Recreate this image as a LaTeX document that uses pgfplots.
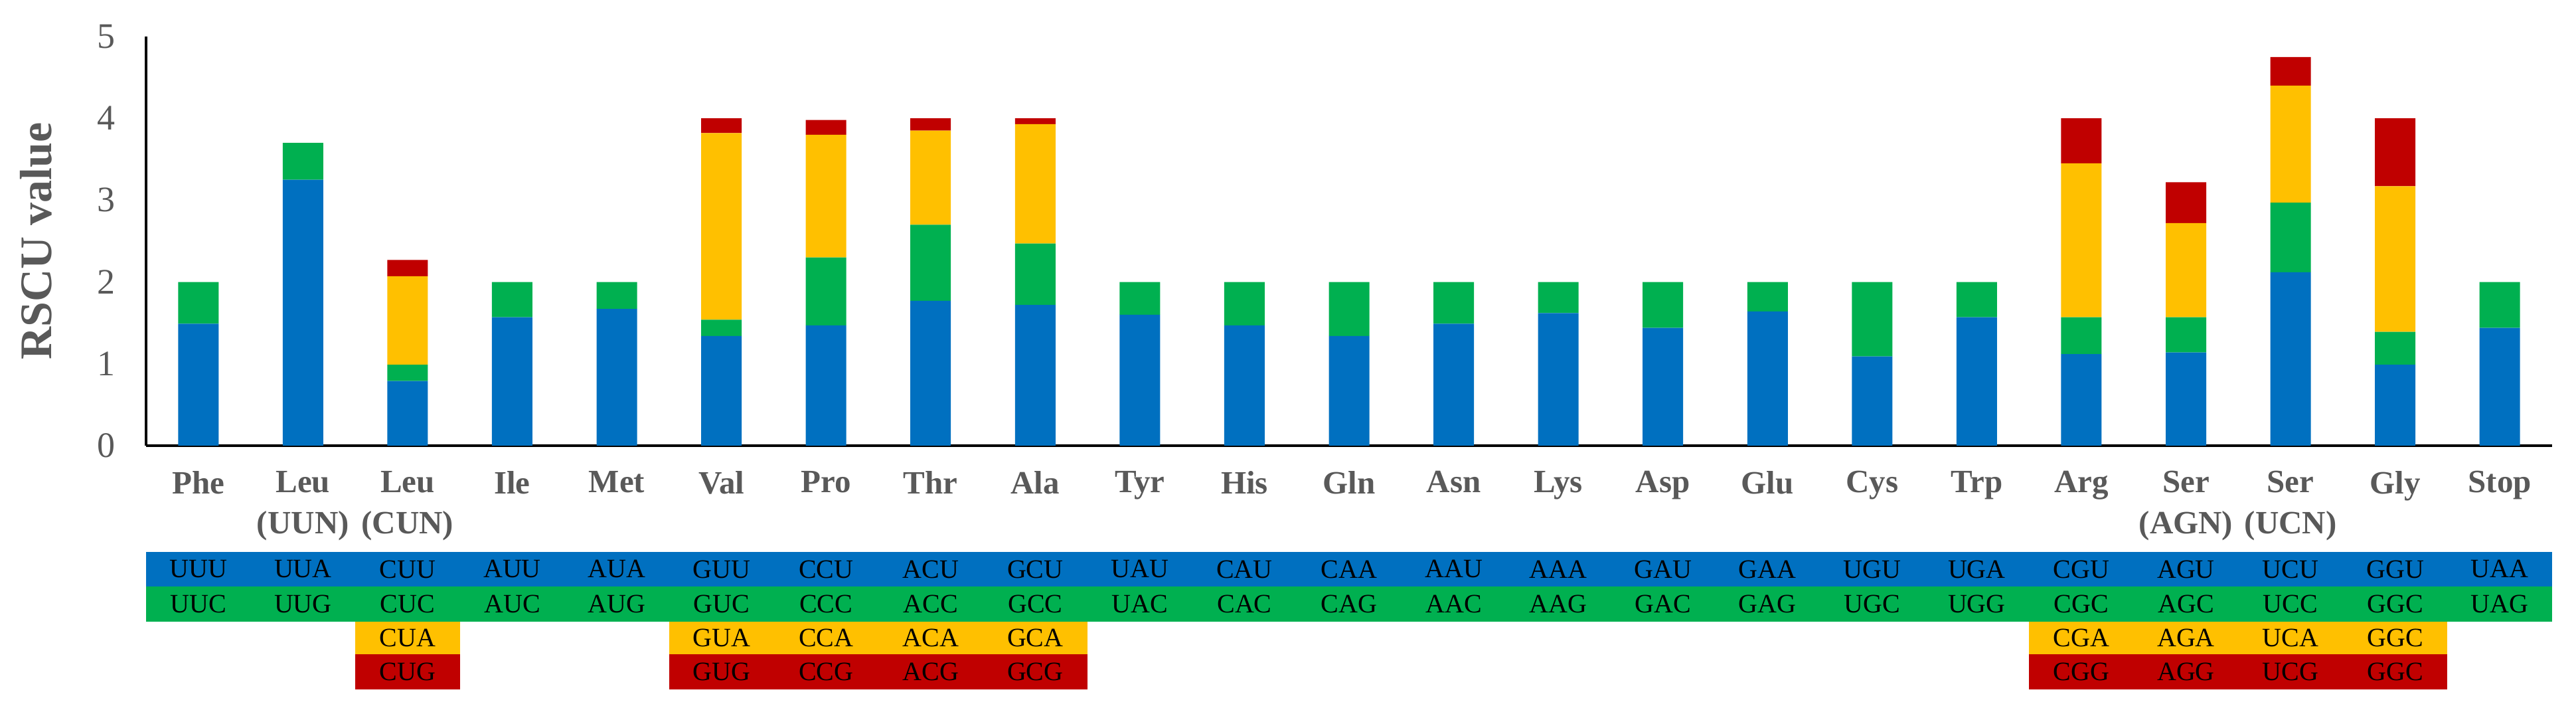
\documentclass[border=0pt]{standalone}
\usepackage{pgfplots}
\pgfplotsset{compat=1.18}
\usepackage{pgfplotstable}
\usepackage{fontspec}
\setmainfont{Liberation Serif}

\definecolor{cBlue}{HTML}{0070C0}
\definecolor{cGreen}{HTML}{00B050}
\definecolor{cYellow}{HTML}{FFC000}
\definecolor{cRed}{HTML}{C00000}
\definecolor{txtgray}{HTML}{595959}

% RSCU of the 1st..4th codon of each amino acid (stacked)
\pgfplotstableread{
x  b    g    y    r
0  1.49 0.51 0    0
1  3.25 0.45 0    0
2  0.79 0.20 1.08 0.20
3  1.57 0.43 0    0
4  1.67 0.33 0    0
5  1.34 0.20 2.28 0.18
6  1.47 0.83 1.50 0.18
7  1.77 0.93 1.15 0.15
8  1.72 0.75 1.46 0.07
9  1.60 0.40 0    0
10 1.47 0.53 0    0
11 1.34 0.66 0    0
12 1.49 0.51 0    0
13 1.62 0.38 0    0
14 1.44 0.56 0    0
15 1.64 0.36 0    0
16 1.09 0.91 0    0
17 1.57 0.43 0    0
18 1.12 0.45 1.88 0.55
19 1.14 0.43 1.15 0.50
20 2.12 0.85 1.43 0.35
21 0.99 0.40 1.78 0.83
22 1.44 0.56 0    0
}\rscu

\begin{document}
\begin{tikzpicture}
\path (-55pt,-101.75pt) rectangle (915pt,167.75pt);
\begin{axis}[
  at={(0,0)}, anchor=south west,
  width=906pt, height=154pt, scale only axis,
  xmin=-0.5, xmax=22.5, ymin=0, ymax=5,
  axis x line*=bottom, axis y line*=left,
  axis line style={black, line width=0.8pt, -},
  ybar stacked, bar width=15.25pt,
  ytick={0,1,2,3,4,5},
  xtick={0,...,22},
  major tick length=0pt,
  xticklabels={Phe,{Leu\\(UUN)},{Leu\\(CUN)},Ile,Met,Val,Pro,Thr,Ala,Tyr,His,Gln,Asn,Lys,Asp,Glu,Cys,Trp,Arg,{Ser\\(AGN)},{Ser\\(UCN)},Gly,Stop},
  xticklabel style={font=\fontsize{12.25}{15.5}\selectfont\bfseries, text=txtgray, align=center, anchor=north, yshift=-6pt},
  yticklabel style={font=\fontsize{13.5}{16}\selectfont, text=txtgray, xshift=-8pt},
  /pgf/number format/assume math mode=true,
  ylabel={RSCU value},
  every axis y label/.style={at={(axis description cs:-0.0458,0.5)}, rotate=90, anchor=center,
    font=\fontsize{17}{20}\selectfont\bfseries, text=txtgray},
  every axis plot/.append style={draw=none},
]
\addplot[fill=cBlue]   table[x=x,y=b]{\rscu};
\addplot[fill=cGreen]  table[x=x,y=g]{\rscu};
\addplot[fill=cYellow] table[x=x,y=y]{\rscu};
\addplot[fill=cRed]    table[x=x,y=r]{\rscu};
\end{axis}

% codon table under the categories
\def\cw{39.3913}
\fill[cBlue]  (0,-40pt) rectangle (906pt,-53pt);
\fill[cGreen] (0,-53pt) rectangle (906pt,-66.25pt);
\foreach \a/\b in {2/3,5/9,18/22}{
  \fill[cYellow] ({\a*\cw pt},-66.25pt) rectangle ({\b*\cw pt},-78.5pt);
  \fill[cRed]    ({\a*\cw pt},-78.5pt) rectangle ({\b*\cw pt},-91.75pt);
}
\tikzset{codon/.style={font=\fontsize{10}{12}\selectfont, text=black, inner sep=0pt}}
\foreach \c [count=\i from 0] in {UUU,UUA,CUU,AUU,AUA,GUU,CCU,ACU,GCU,UAU,CAU,CAA,AAU,AAA,GAU,GAA,UGU,UGA,CGU,AGU,UCU,GGU,UAA}
  \node[codon] at ({(\i+0.5)*\cw pt},-46.5pt) {\c};
\foreach \c [count=\i from 0] in {UUC,UUG,CUC,AUC,AUG,GUC,CCC,ACC,GCC,UAC,CAC,CAG,AAC,AAG,GAC,GAG,UGC,UGG,CGC,AGC,UCC,GGC,UAG}
  \node[codon] at ({(\i+0.5)*\cw pt},-59.6pt) {\c};
\foreach \i/\c in {2/CUA,5/GUA,6/CCA,7/ACA,8/GCA,18/CGA,19/AGA,20/UCA,21/GGC}
  \node[codon] at ({(\i+0.5)*\cw pt},-72.4pt) {\c};
\foreach \i/\c in {2/CUG,5/GUG,6/CCG,7/ACG,8/GCG,18/CGG,19/AGG,20/UCG,21/GGC}
  \node[codon] at ({(\i+0.5)*\cw pt},-85.1pt) {\c};
\end{tikzpicture}
\end{document}
